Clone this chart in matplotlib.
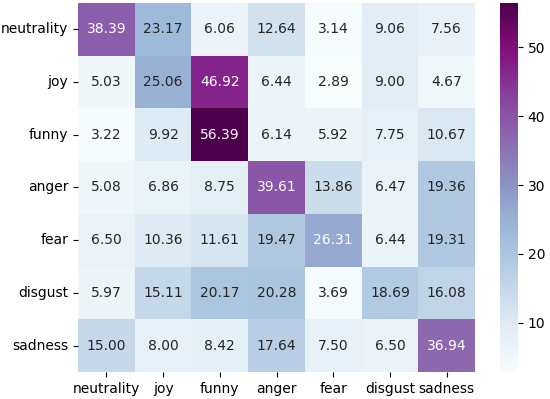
import numpy as np
import pandas as pd
import seaborn as sns
import matplotlib
matplotlib.use('Agg')
import matplotlib.pyplot as plt

labels = ['neutrality', 'joy', 'funny', 'anger', 'fear', 'disgust', 'sadness']

neutrality = [38.39, 23.17, 6.06, 12.64, 3.14, 9.06, 7.56]
joy = [5.03, 25.06, 46.92, 6.44, 2.89, 9.00, 4.67]
funny = [3.22, 9.92, 56.39, 6.14, 5.92, 7.75, 10.67]
anger = [5.08, 6.86, 8.75, 39.61, 13.86, 6.47, 19.36]
fear = [6.50, 10.36, 11.61, 19.47, 26.31, 6.44, 19.31]
disgust = [5.97, 15.11, 20.17, 20.28, 3.69, 18.69, 16.08]
sadness = [15.00, 8.00, 8.42, 17.64, 7.50, 6.50, 36.94]

df = pd.DataFrame([neutrality, joy, funny, anger, fear, disgust, sadness],
                  index=labels, columns=labels)

W, H = 550, 399
fig = plt.figure(figsize=(W / 100, H / 100))
ax = fig.add_axes([78 / W, 27 / H, 397 / W, 369 / H])
cax = fig.add_axes([500 / W, 27 / H, 18 / W, 369 / H])
sns.heatmap(df, annot=True, fmt='.2f', cmap='BuPu', ax=ax, cbar_ax=cax)
ax.tick_params(axis='x', rotation=0)
ax.tick_params(axis='y', rotation=0)
fig.savefig('out.png', dpi=100)
